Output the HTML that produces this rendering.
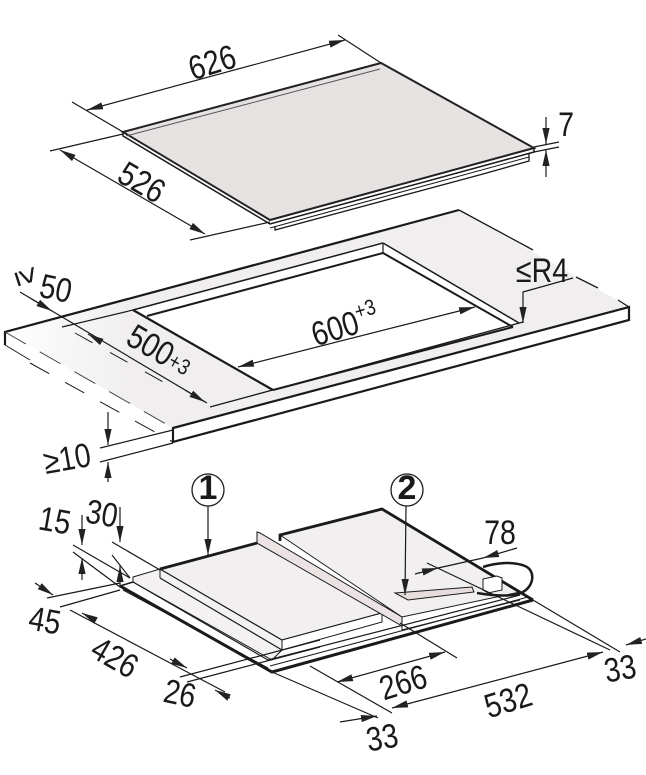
<!DOCTYPE html>
<html><head><meta charset="utf-8"><style>
html,body{margin:0;padding:0;background:#fff;width:646px;height:775px;overflow:hidden}
svg{display:block}
text{font-family:"Liberation Sans",sans-serif;fill:#1a1a1a;font-size:34px;text-anchor:middle}
</style></head><body>
<svg width="646" height="775" viewBox="0 0 646 775" xmlns="http://www.w3.org/2000/svg">
<defs>
<marker id="a" viewBox="0 0 10 10" refX="10" refY="5" markerWidth="16" markerHeight="9" orient="auto-start-reverse" markerUnits="userSpaceOnUse" preserveAspectRatio="none"><path d="M0,1 L10,5 L0,9z" fill="#222"/></marker>
<linearGradient id="g" x1="0" y1="0" x2="1" y2="0"><stop offset="0" stop-color="#fff"/><stop offset="0.2" stop-color="#f0eeee"/></linearGradient>
</defs>
<g stroke="#1a1a1a" fill="none" stroke-width="1.2">
<polygon points="123,132 381,63 534,148 270,220" fill="#e6e2e2" stroke="#222" stroke-width="2"/>
<line x1="126" y1="136" x2="380" y2="69" stroke-width="1" stroke="#555"/>
<polyline points="123,132 123,136 270,224 534,152 534,148" stroke-width="1.5"/>
<polyline points="270,228 529,157" stroke-width="1"/>
<polyline points="275,226 275,230 483,174 529,161 529,153" stroke-width="1.3"/>
<line x1="72" y1="102" x2="123" y2="132"/>
<line x1="338" y1="35" x2="381" y2="63"/>
<line x1="87" y1="110" x2="345" y2="40" marker-start="url(#a)" marker-end="url(#a)"/>
<line x1="50" y1="151" x2="123" y2="134"/>
<line x1="190" y1="240" x2="270" y2="222"/>
<line x1="60" y1="150" x2="205" y2="234" marker-start="url(#a)" marker-end="url(#a)"/>
<line x1="534" y1="147" x2="559" y2="142"/>
<line x1="534" y1="152" x2="559" y2="147"/>
<line x1="546" y1="117" x2="546" y2="144" marker-end="url(#a)"/>
<line x1="546" y1="177" x2="546" y2="150" marker-end="url(#a)"/>

<polygon points="5,332 459,210 629,307 173,428" fill="url(#g)" stroke="none"/>
<polygon points="133,310 383,243 519,323 273,390" fill="#fff" stroke="none"/>
<polyline points="5,345 5,332 459,210" stroke-width="2.2"/>
<line x1="459" y1="210" x2="533" y2="250" stroke-width="1.3"/>
<line x1="576" y1="277" x2="598" y2="288" stroke-width="1.3"/>
<line x1="618" y1="300" x2="629" y2="307" stroke-width="1.3"/>
<polygon points="173,428 629,307 629,320 173,442" fill="#fff" stroke-width="2.2"/>
<line x1="5" y1="345" x2="30" y2="360" stroke-width="1"/>
<line x1="5" y1="332" x2="173" y2="428" stroke-dasharray="24,16" stroke-width="1" stroke="#444"/>
<line x1="30" y1="363" x2="173" y2="442" stroke-dasharray="22,18" stroke-width="1"/>
<line x1="75" y1="333" x2="165" y2="383" stroke-dasharray="20,20" stroke-width="1"/>
<line x1="133" y1="310" x2="383" y2="243" stroke-width="1.5"/>
<line x1="147" y1="316" x2="383" y2="253" stroke-width="2"/>
<line x1="383" y1="243" x2="383" y2="253" stroke-width="1.2"/>
<line x1="383" y1="243" x2="519" y2="323" stroke-width="1.5"/>
<line x1="383" y1="253" x2="513" y2="327" stroke-width="2"/>
<line x1="133" y1="310" x2="273" y2="390" stroke-width="2.2"/>
<line x1="273" y1="390" x2="513" y2="327" stroke-width="2"/>
<line x1="210" y1="407" x2="523" y2="322" stroke-width="1.3"/>
<line x1="62" y1="327" x2="133" y2="310"/>
<line x1="20" y1="292" x2="207" y2="403"/>
<line x1="30" y1="298" x2="52" y2="311" marker-end="url(#a)"/>
<line x1="100" y1="341" x2="88" y2="334" marker-end="url(#a)"/>
<line x1="185" y1="390" x2="205" y2="402" marker-end="url(#a)"/>
<line x1="238" y1="367" x2="475" y2="307" marker-start="url(#a)" marker-end="url(#a)"/>
<polyline points="573,278 523,292 523,323" marker-end="url(#a)"/>
<line x1="100" y1="448" x2="173" y2="430"/>
<line x1="100" y1="462" x2="173" y2="443"/>
<line x1="108" y1="412" x2="108" y2="445" marker-end="url(#a)"/>
<line x1="108" y1="482" x2="108" y2="462" marker-end="url(#a)"/>

<polygon points="120,586 382,514 533,600 272,672" fill="#fff" stroke="none"/>
<polyline points="120,586 272,672 533,600" stroke-width="3"/>
<line x1="120" y1="586" x2="133" y2="582" stroke-width="1.5"/>
<line x1="123" y1="590" x2="268" y2="668" stroke-width="1"/>
<line x1="270" y1="666" x2="528" y2="597" stroke-width="1"/>
<polygon points="133,577 160,569 282,640 282,650 272,660 133,582" fill="#f3f1f1" stroke-width="1"/>
<line x1="133" y1="582" x2="268" y2="660"/>
<line x1="268" y1="660" x2="520" y2="595"/>
<line x1="160" y1="578" x2="282" y2="650"/>
<polygon points="160,569 257,543 382,613 282,640" fill="#f1efef" stroke-width="1.2"/>
<polygon points="282,640 382,613 382,622 282,650" fill="#fff" stroke-width="1"/>
<line x1="160" y1="569" x2="160" y2="578" stroke-width="1"/>
<line x1="160" y1="569" x2="257" y2="543" stroke-width="2.8"/>
<polygon points="257,532 260,533 402,617 402,626 257,543" fill="#ebe3e3" stroke-width="1"/>
<polygon points="280,535 382,509 520,592 402,617" fill="#f1efef" stroke-width="1"/>
<polyline points="280,541 280,535 382,509 533,600" stroke-width="2.8"/>
<polygon points="395,593 472,587 474,592 408,600" fill="#e8dddd" stroke-width="1"/>
<polyline points="402,617 402,630 520,600" stroke-width="1"/>
<polygon points="483,579 497,576 502,578 502,590 488,593 483,590" fill="#fff" stroke-width="1"/>
<path d="M477,593 C495,596 515,597 523,592 C535,585 535,570 525,566 C512,561 495,563 483,567" stroke-width="2.5"/>
<circle cx="208" cy="490" r="16" fill="#fff" stroke-width="1.3"/>
<circle cx="407" cy="490" r="16" fill="#fff" stroke-width="1.3"/>
<line x1="208" y1="506" x2="208" y2="555" marker-end="url(#a)"/>
<line x1="406" y1="506" x2="405" y2="595" marker-end="url(#a)"/>
<line x1="73" y1="545" x2="130" y2="578"/>
<line x1="73" y1="552" x2="120" y2="587"/>
<line x1="112" y1="542" x2="160" y2="570"/>
<line x1="112" y1="555" x2="130" y2="578"/>
<line x1="82" y1="515" x2="82" y2="545" marker-end="url(#a)"/>
<line x1="82" y1="580" x2="82" y2="558" marker-end="url(#a)"/>
<line x1="120" y1="507" x2="120" y2="542" marker-end="url(#a)"/>
<line x1="120" y1="587" x2="120" y2="566" marker-end="url(#a)"/>
<line x1="47" y1="598" x2="120" y2="583"/>
<line x1="60" y1="607" x2="120" y2="590"/>
<line x1="35" y1="583" x2="53" y2="595" marker-end="url(#a)"/>
<line x1="70" y1="610" x2="225" y2="692"/>
<line x1="95" y1="620" x2="82" y2="613" marker-end="url(#a)"/>
<line x1="170" y1="659" x2="187" y2="668" marker-end="url(#a)"/>
<line x1="230" y1="698" x2="215" y2="690" marker-end="url(#a)"/>
<line x1="180" y1="677" x2="320" y2="640"/>
<line x1="187" y1="682" x2="320" y2="647"/>
<line x1="400" y1="623" x2="457" y2="658"/>
<line x1="337" y1="682" x2="445" y2="652" marker-start="url(#a)" marker-end="url(#a)"/>
<line x1="272" y1="672" x2="378" y2="718"/>
<line x1="310" y1="666" x2="392" y2="713"/>
<line x1="427" y1="563" x2="610" y2="650"/>
<line x1="533" y1="600" x2="620" y2="652"/>
<line x1="392" y1="708" x2="603" y2="652" marker-start="url(#a)" marker-end="url(#a)"/>
<line x1="340" y1="722" x2="377" y2="716" marker-end="url(#a)"/>
<line x1="646" y1="639" x2="626" y2="645" marker-end="url(#a)"/>
<line x1="517" y1="548" x2="483" y2="558" marker-end="url(#a)"/>
<line x1="415" y1="574" x2="438" y2="568" marker-end="url(#a)"/>
<line x1="438" y1="568" x2="483" y2="558"/>
</g>
<g>
<text transform="translate(212,62) rotate(-17) scale(0.84,1)" dy="12">626</text>
<text transform="translate(142,182) rotate(30) scale(0.84,1)" dy="12">526</text>
<text transform="translate(566,124) scale(0.84,1)" dy="12">7</text>
<text transform="translate(28,276) rotate(72) scale(0.84,1)" dy="12">≥</text>
<text transform="translate(56,288) rotate(12) scale(0.84,1)" dy="12">50</text>
<text transform="translate(160,350) rotate(30) scale(0.84,1)" dy="12">500<tspan font-size="22" dy="-2">+3</tspan></text>
<text transform="translate(345,325) rotate(-17) scale(0.84,1)" dy="12">600<tspan font-size="22" dy="-14">+3</tspan></text>
<text transform="translate(542,270) scale(0.84,1)" dy="12">≤R4</text>
<text transform="translate(67,458) rotate(-10) scale(0.84,1)" dy="12">≥10</text>
<text x="208" y="499" font-size="24" font-weight="bold">1</text>
<text x="407" y="499" font-size="24" font-weight="bold">2</text>
<text transform="translate(55,520) rotate(10) scale(0.84,1)" dy="12">15</text>
<text transform="translate(102,513) rotate(10) scale(0.84,1)" dy="12">30</text>
<text transform="translate(500,532) scale(0.84,1)" dy="12">78</text>
<text transform="translate(45,620) rotate(10) scale(0.84,1)" dy="12">45</text>
<text transform="translate(115,657) rotate(30) scale(0.84,1)" dy="12">426</text>
<text transform="translate(180,693) rotate(12) scale(0.84,1)" dy="12">26</text>
<text transform="translate(403,682) rotate(-17) scale(0.84,1)" dy="12">266</text>
<text transform="translate(508,700) rotate(-17) scale(0.84,1)" dy="12">532</text>
<text transform="translate(620,668) rotate(-10) scale(0.84,1)" dy="12">33</text>
<text transform="translate(382,737) rotate(-10) scale(0.84,1)" dy="12">33</text>
</g>
</svg>
</body></html>
